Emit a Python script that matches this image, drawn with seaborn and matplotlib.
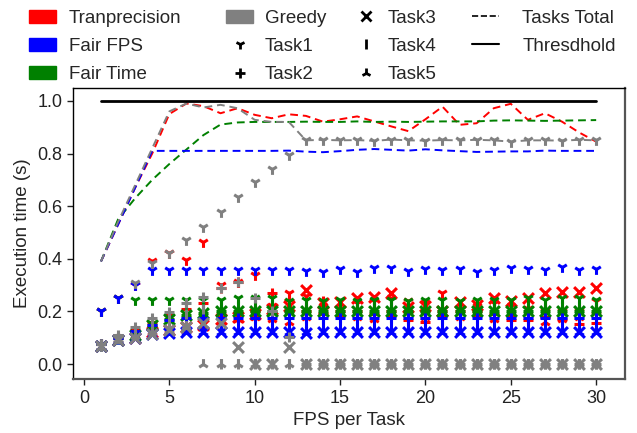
import matplotlib
matplotlib.use("Agg")
import matplotlib.pyplot as plt
import seaborn as sns
from matplotlib.patches import Patch
from matplotlib.lines import Line2D

fps = list(range(1, 31))
threshold = [1.0] * 30

# Tasks Total (dashed)
tran_total = [0.39, 0.53, 0.67, 0.80, 0.95, 0.99, 0.98, 0.953, 0.972, 0.947, 0.934, 0.949, 0.943, 0.921, 0.93, 0.941, 0.922, 0.903, 0.885, 0.93,
              0.978, 0.909, 0.915, 0.972, 0.989, 0.928, 0.953, 0.921, 0.88, 0.845]
fps_total = [0.39, 0.53, 0.67, 0.81, 0.81, 0.81, 0.81, 0.81, 0.81, 0.81, 0.81, 0.811, 0.807, 0.805, 0.809, 0.814, 0.817, 0.814, 0.811, 0.816,
             0.812, 0.809, 0.806, 0.807, 0.808, 0.808, 0.811, 0.81, 0.81, 0.81]
time_total = [0.39, 0.55, 0.63, 0.70, 0.76, 0.815, 0.87, 0.91, 0.918, 0.92, 0.92, 0.92, 0.921, 0.92, 0.92, 0.922, 0.92, 0.921, 0.92, 0.921,
              0.922, 0.922, 0.922, 0.925, 0.926, 0.925, 0.924, 0.925, 0.926, 0.927]
greedy_total = [0.39, 0.54, 0.68, 0.82, 0.96, 0.99, 0.975, 0.985, 0.972, 0.928, 0.92, 0.92, 0.85, 0.852, 0.85, 0.851, 0.848, 0.853, 0.85, 0.849,
                0.851, 0.85, 0.852, 0.85, 0.845, 0.85, 0.85, 0.849, 0.852, 0.85]

# Tranprecision tasks
tran_t1 = [0.20, 0.25, 0.30, 0.39, 0.42, 0.395, 0.465, 0.30, 0.31, 0.34, 0.22, 0.27, 0.26, 0.22, 0.21, 0.23, 0.24, 0.25, 0.24, 0.23,
           0.27, 0.21, 0.22, 0.23, 0.22, 0.21, 0.20, 0.20, 0.20, 0.24]
tran_t2 = [0.075, 0.10, 0.13, 0.16, 0.186, 0.21, 0.23, 0.29, 0.31, 0.20, 0.27, 0.245, 0.20, 0.19, 0.20, 0.20, 0.19, 0.20, 0.167, 0.16,
           0.20, 0.20, 0.20, 0.19, 0.167, 0.167, 0.18, 0.17, 0.152, 0.155]
tran_t3 = [0.07, 0.09, 0.10, 0.12, 0.13, 0.14, 0.15, 0.17, 0.18, 0.19, 0.21, 0.22, 0.28, 0.23, 0.237, 0.25, 0.255, 0.27, 0.218, 0.22,
           0.20, 0.237, 0.225, 0.25, 0.24, 0.25, 0.27, 0.275, 0.275, 0.288]
tran_t4 = [0.075, 0.10, 0.12, 0.14, 0.16, 0.17, 0.18, 0.19, 0.20, 0.21, 0.22, 0.18, 0.21, 0.24, 0.22, 0.21, 0.20, 0.21, 0.19, 0.20,
           0.21, 0.22, 0.21, 0.23, 0.22, 0.20, 0.21, 0.20, 0.21, 0.20]
tran_t5 = [0.065, 0.09, 0.105, 0.12, 0.13, 0.14, 0.15, 0.16, 0.17, 0.18, 0.17, 0.16, 0.18, 0.20, 0.19, 0.18, 0.17, 0.19, 0.18, 0.18,
           0.19, 0.18, 0.19, 0.17, 0.19, 0.18, 0.16, 0.17, 0.18, 0.20]

# Fair FPS tasks
fps_t1 = [0.20, 0.25, 0.30, 0.357, 0.357, 0.357, 0.357, 0.357, 0.357, 0.357, 0.357, 0.357, 0.353, 0.351, 0.36, 0.351, 0.364, 0.364, 0.353, 0.36,
          0.357, 0.36, 0.351, 0.357, 0.364, 0.36, 0.357, 0.368, 0.357, 0.36]
fps_t2 = [0.075, 0.10, 0.125, 0.15, 0.167, 0.174, 0.174, 0.175, 0.174, 0.174, 0.174, 0.175, 0.174, 0.174, 0.173, 0.174, 0.175, 0.174, 0.174, 0.174,
          0.175, 0.174, 0.174, 0.174, 0.175, 0.174, 0.174, 0.174, 0.175, 0.174]
fps_t3 = [0.07, 0.09, 0.10, 0.115, 0.117, 0.12, 0.12, 0.121, 0.12, 0.12, 0.12, 0.12, 0.119, 0.12, 0.12, 0.12, 0.121, 0.12, 0.12, 0.12,
          0.12, 0.12, 0.12, 0.121, 0.12, 0.12, 0.12, 0.12, 0.12, 0.12]
fps_t4 = [0.07, 0.095, 0.11, 0.13, 0.145, 0.147, 0.147, 0.147, 0.147, 0.147, 0.147, 0.147, 0.147, 0.147, 0.147, 0.147, 0.147, 0.147, 0.147, 0.147,
          0.147, 0.147, 0.147, 0.147, 0.147, 0.147, 0.147, 0.147, 0.147, 0.147]
fps_t5 = [0.065, 0.09, 0.10, 0.115, 0.12, 0.12, 0.12, 0.12, 0.12, 0.12, 0.12, 0.12, 0.12, 0.12, 0.12, 0.12, 0.12, 0.12, 0.12, 0.12,
          0.12, 0.12, 0.12, 0.12, 0.12, 0.12, 0.12, 0.12, 0.12, 0.12]

# Fair Time tasks
time_t1 = [0.20, 0.25, 0.245, 0.245, 0.245, 0.245, 0.245, 0.245, 0.25, 0.25, 0.25, 0.24, 0.245, 0.24, 0.245, 0.24, 0.245, 0.245, 0.24, 0.245,
           0.245, 0.24, 0.245, 0.245, 0.245, 0.25, 0.245, 0.25, 0.25, 0.245]
time_t2 = [0.075, 0.10, 0.12, 0.15, 0.17, 0.185, 0.195, 0.20, 0.20, 0.20, 0.20, 0.20, 0.20, 0.20, 0.20, 0.20, 0.20, 0.20, 0.20, 0.20,
           0.20, 0.20, 0.20, 0.20, 0.20, 0.20, 0.20, 0.20, 0.20, 0.20]
time_t3 = [0.07, 0.09, 0.11, 0.15, 0.17, 0.185, 0.195, 0.20, 0.20, 0.20, 0.20, 0.20, 0.20, 0.20, 0.20, 0.20, 0.20, 0.20, 0.20, 0.20,
           0.20, 0.20, 0.20, 0.20, 0.20, 0.20, 0.20, 0.20, 0.20, 0.20]
time_t4 = [0.07, 0.095, 0.115, 0.16, 0.18, 0.20, 0.215, 0.22, 0.222, 0.222, 0.222, 0.222, 0.222, 0.222, 0.222, 0.222, 0.222, 0.222, 0.222, 0.222,
           0.222, 0.222, 0.222, 0.222, 0.222, 0.222, 0.222, 0.222, 0.222, 0.222]
time_t5 = [0.065, 0.09, 0.105, 0.15, 0.17, 0.185, 0.195, 0.20, 0.20, 0.20, 0.20, 0.20, 0.20, 0.20, 0.20, 0.20, 0.20, 0.20, 0.20, 0.20,
           0.20, 0.20, 0.20, 0.20, 0.20, 0.20, 0.20, 0.20, 0.20, 0.20]

# Greedy tasks
greedy_t1 = [0.07, 0.10, 0.307, 0.383, 0.42, 0.47, 0.522, 0.579, 0.634, 0.69, 0.74, 0.795, 0.85, 0.852, 0.85, 0.851, 0.848, 0.853, 0.85, 0.849,
             0.851, 0.85, 0.852, 0.85, 0.845, 0.85, 0.85, 0.849, 0.852, 0.85]
greedy_t2 = [0.075, 0.11, 0.14, 0.174, 0.199, 0.23, 0.256, 0.288, 0.313, 0.25, 0.20, 0.104, 0, 0, 0, 0, 0, 0, 0, 0,
             0, 0, 0, 0, 0, 0, 0, 0, 0, 0]
greedy_t3 = [0.07, 0.09, 0.10, 0.115, 0.13, 0.14, 0.155, 0.155, 0.066, 0, 0, 0.066, 0, 0, 0, 0, 0, 0, 0, 0,
             0, 0, 0, 0, 0, 0, 0, 0, 0, 0]
greedy_t4 = [0.075, 0.10, 0.125, 0.15, 0.165, 0.19, 0.21, 0, 0, 0, 0, 0, 0, 0, 0, 0, 0, 0, 0, 0,
             0, 0, 0, 0, 0, 0, 0, 0, 0, 0]
greedy_t5 = [0.065, 0.095, 0.105, 0.12, 0.13, 0.145, 0, 0, 0, 0, 0, 0, 0, 0, 0, 0, 0, 0, 0, 0,
             0, 0, 0, 0, 0, 0, 0, 0, 0, 0]

algos = ["Tranprecision", "Fair FPS", "Fair Time", "Greedy"]
colors = {"Tranprecision": "#ff0000", "Fair FPS": "#0000ff", "Fair Time": "#008000", "Greedy": "#808080"}
totals = {"Tranprecision": tran_total, "Fair FPS": fps_total, "Fair Time": time_total, "Greedy": greedy_total}
tasks = {
    "Tranprecision": [tran_t1, tran_t2, tran_t3, tran_t4, tran_t5],
    "Fair FPS": [fps_t1, fps_t2, fps_t3, fps_t4, fps_t5],
    "Fair Time": [time_t1, time_t2, time_t3, time_t4, time_t5],
    "Greedy": [greedy_t1, greedy_t2, greedy_t3, greedy_t4, greedy_t5],
}
task_names = ["Task1", "Task2", "Task3", "Task4", "Task5"]
task_markers = ["1", "+", "x", "|", "2"]
draw_order = ["Tranprecision", "Fair Time", "Fair FPS", "Greedy"]

sns.set_style("ticks")
plt.rcParams['font.family'] = ['Liberation Sans', 'DejaVu Sans']
plt.rcParams['xtick.major.size'] = 4.3
plt.rcParams['ytick.major.size'] = 4.3

W, H = 637, 433
fig = plt.figure(figsize=(W / 100, H / 100), dpi=100)
ax = fig.add_axes([0.1146, 0.1247, 0.8666, 0.6721])

for algo in draw_order:
    sns.lineplot(x=fps, y=totals[algo], color=colors[algo], linestyle="--", dashes=False,
                 linewidth=1.4, ax=ax, zorder=2)
    ax.lines[-1].set_dashes((4, 2.5))

sns.lineplot(x=fps, y=threshold, color="black", linewidth=2, ax=ax, zorder=2)

for algo in draw_order:
    for vals, m in zip(tasks[algo], task_markers):
        sns.scatterplot(x=fps, y=vals, marker=m, color=colors[algo], s=60, linewidth=2.2,
                        ax=ax, zorder=3)

ax.set_xlim(-0.64, 31.69)
ax.set_ylim(-0.057, 1.049)
ax.set_xticks([0, 5, 10, 15, 20, 25, 30])
ax.set_yticks([0.0, 0.2, 0.4, 0.6, 0.8, 1.0])
ax.tick_params(labelsize=13, colors="#222222", width=1)
ax.set_xlabel("FPS per Task", fontsize=13.5)
ax.set_ylabel("Execution time (s)", fontsize=13.5)
for side in ["left", "top"]:
    ax.spines[side].set_color("black")
    ax.spines[side].set_linewidth(1.0)
for side in ["right", "bottom"]:
    ax.spines[side].set_color("#555555")
    ax.spines[side].set_linewidth(1.6)

# legend: four columns placed one by one
def marker_handle(m):
    return Line2D([], [], marker=m, color="black", linestyle="None", markersize=7, mew=2)

legend_cols = [
    ([Patch(color=colors[a]) for a in algos[:3]], algos[:3], 28.5, 0.72),
    ([Patch(color=colors["Greedy"]), marker_handle("1"), marker_handle("+")],
     ["Greedy", "Task1", "Task2"], 226, 0.62),
    ([marker_handle(m) for m in task_markers[2:]], task_names[2:], 352, 0.45),
    ([Line2D([], [], color="black", linestyle="--", linewidth=1.2),
      Line2D([], [], color="black", linestyle="-", linewidth=1.5)],
     ["Tasks Total", "Thresdhold"], 472, 1.25),
]
for hs, ls, x0, pad in legend_cols:
    fig.legend(hs, ls, loc="upper left", bbox_to_anchor=(x0 / W, 1 - 9.5 / H), frameon=False,
               fontsize=13.5, handlelength=1.44, handleheight=0.7, handletextpad=pad,
               labelspacing=0.6, borderpad=0, borderaxespad=0)

fig.savefig("out.png", dpi=100)
